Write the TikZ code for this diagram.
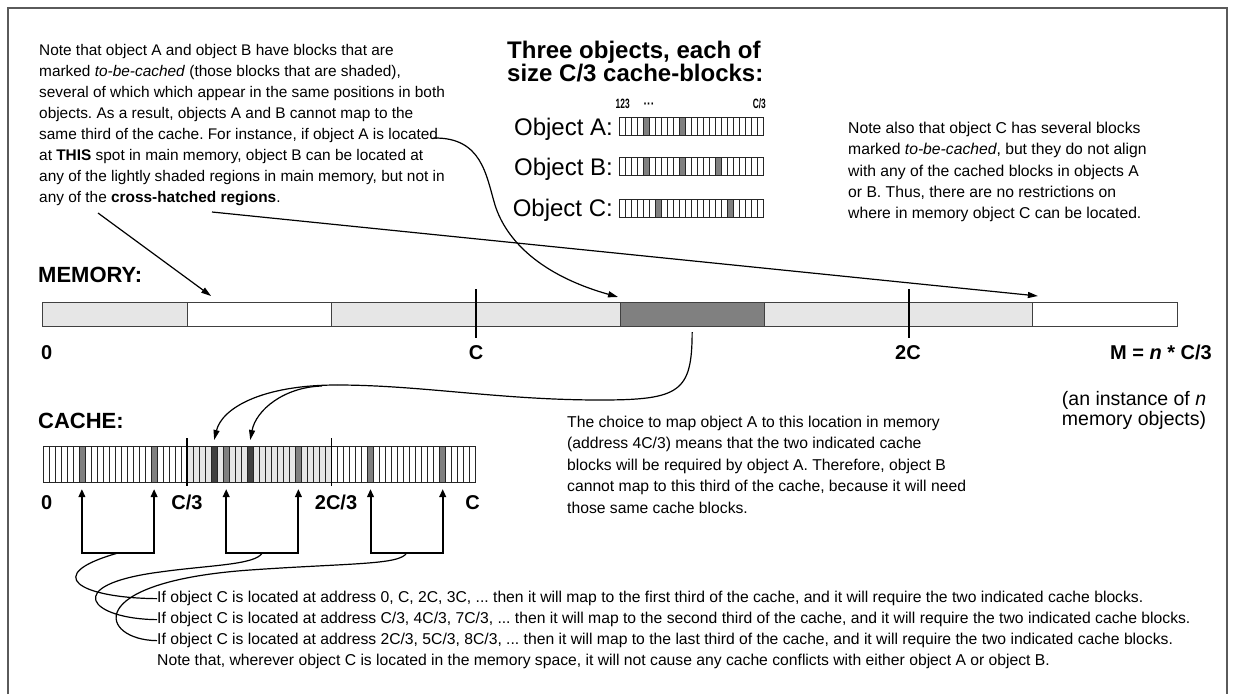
\documentclass[tikz,border=0pt]{standalone}
\usepackage{fontspec}
\setmainfont{Liberation Sans}
\usetikzlibrary{arrows.meta,calc}
\definecolor{memlight}{HTML}{E6E6E6}
\definecolor{memdark}{HTML}{808080}
\definecolor{cellmid}{HTML}{808080}
\definecolor{celldeep}{HTML}{404040}
\definecolor{framegray}{HTML}{5A5A5A}
\frenchspacing
\newcommand{\drawobjbar}[2]{%
  \fill[white] (619.3,#1) rectangle (763.6,{#1+18});
  \foreach \c in {#2} \fill[cellmid] ({619.3+\c*6.0125},#1) rectangle ++(6.0125,18);
  \foreach \c in {0,...,24} \draw[cellline] ({619.3+\c*6.0125},#1) -- ++(0,18);
  \draw[cellline] (619.3,#1) rectangle (763.6,{#1+18});
}
\begin{document}
\frenchspacing
\begin{tikzpicture}[x=1pt,y=-1pt,
  notetext/.style={font=\fontsize{15.4}{18}\selectfont,inner sep=0pt,anchor=base west},
  bodytext/.style={font=\fontsize{15.7}{18}\selectfont,inner sep=0pt,anchor=base west},
  biglabel/.style={font=\bfseries\fontsize{22}{26}\selectfont,inner sep=0pt,anchor=base west},
  headtext/.style={font=\bfseries\fontsize{24}{27}\selectfont,inner sep=0pt,anchor=base west},
  addr/.style={font=\bfseries\fontsize{20}{24}\selectfont,inner sep=0pt,anchor=base},
  objlabel/.style={font=\fontsize{24}{27}\selectfont,inner sep=0pt,anchor=base east},
  tinylabel/.style={font=\bfseries\fontsize{13.5}{15}\selectfont,inner sep=0pt},
  instlabel/.style={font=\fontsize{19.5}{22}\selectfont,inner sep=0pt,anchor=base},
  memseg/.style={draw=black!75,line width=1pt,inner sep=0pt,outer sep=0pt,minimum height=24pt},
  conn/.style={draw=black,line width=1.2pt},
  tipped/.style={-{Triangle[length=10pt,width=6pt]}},
  bracket/.style={line width=2pt,{Triangle[length=8pt,width=6.5pt]}-{Triangle[length=8pt,width=6.5pt]}},
  tickline/.style={line width=1.8pt},
  cellline/.style={line width=0.6pt,draw=black!85},
]
\useasboundingbox (0,0) rectangle (1233,694);
\draw[framegray,line width=1.2pt] (8,694) -- (8,8) -- (1227,8) -- (1227,694);

% ---------- left note ----------
\foreach \t [count=\i] in {
  {Note that object A and object B have blocks that are},
  {marked \textit{to-be-cached} (those blocks that are shaded),},
  {several of which which appear in the same positions in both},
  {objects. As a result, objects A and B cannot map to the},
  {same third of the cache. For instance, if object A is located},
  {at \textbf{THIS} spot in main memory, object B can be located at},
  {any of the lightly shaded regions in main memory, but not in},
  {any of the \textbf{cross-hatched regions}.}}
  \node[notetext] (ln\i) at (39,{55.5+21*(\i-1)}) {\t};

% ---------- heading ----------
\node[headtext] (h1) at (507,58.6) {Three objects, each of};
\node[headtext] (h2) at (507,81.6) {size C/3 cache-blocks:};
\node[tinylabel,anchor=base west] (n123) at (615.5,108) {\scalebox{0.62}[1]{123}};
\node[tinylabel,anchor=base] (ndots) at (649,108) {\scalebox{0.8}[1]{···}};
\node[tinylabel,anchor=base east] (nc3) at (766,108) {\scalebox{0.62}[1]{C/3}};

% ---------- objects ----------
\drawobjbar{117.5}{4,10}
\drawobjbar{157.5}{4,10,16}
\drawobjbar{199}{6,18}
\node[objlabel] (oa) at (613,135.5) {Object A:};
\node[objlabel] (ob) at (613,175.5) {Object B:};
\node[objlabel] (oc) at (613,216.5) {Object C:};

% ---------- right note ----------
\foreach \t [count=\i] in {
  {Note also that object C has several blocks},
  {marked \textit{to-be-cached}, but they do not align},
  {with any of the cached blocks in objects A},
  {or B. Thus, there are no restrictions on},
  {where in memory object C can be located.}}
  \node[bodytext] (rn\i) at (848,{133.7+21.2*(\i-1)}) {\t};

% ---------- memory ----------
\node[biglabel] (memlbl) at (38,282) {MEMORY:};
\node[memseg,fill=memlight,minimum width=144.3pt] (m0) at (114.95,314) {};
\node[memseg,fill=white,minimum width=144.3pt] (m1) at (259.25,314) {};
\node[memseg,fill=memlight,minimum width=288.6pt] (m2) at (475.7,314) {};
\node[memseg,fill=memdark,minimum width=144.3pt] (m3) at (692.15,314) {};
\node[memseg,fill=memlight,minimum width=288.6pt] (m4) at (908.6,314) {};
\node[memseg,fill=white,minimum width=144.3pt] (m5) at (1105.05,314) {};
\draw[tickline] (475.7,289) -- (475.7,338);
\draw[tickline] (908.6,289) -- (908.6,338);
\node[addr,anchor=base west] (a0) at (41,359) {0};
\node[addr] (aC) at (476,359) {C};
\node[addr] (a2C) at (908,359) {2C};
\node[addr,anchor=base east] (aM) at (1212,359) {M = \textit{n} * C/3};
\node[instlabel] (inst1) at (1134,405) {(an instance of \textit{n}};
\node[instlabel] (inst2) at (1134,425) {memory objects)};

% ---------- cache ----------
\node[biglabel] (cachelbl) at (38,428) {CACHE:};
\fill[white] (42.8,446) rectangle (475.7,482);
\fill[memlight] ({42.8+24*6.0125},446) rectangle ({42.8+48*6.0125},482);
\foreach \c in {6,18,30,42,54,66} \fill[cellmid] ({42.8+\c*6.0125},446) rectangle ++(6.0125,36);
\foreach \c in {28,34} \fill[celldeep] ({42.8+\c*6.0125},446) rectangle ++(6.0125,36);
\foreach \c in {0,...,72} \draw[cellline] ({42.8+\c*6.0125},446) -- ++(0,36);
\draw[cellline] (42.8,446) rectangle (475.7,482);
\draw[tickline] (187.1,438) -- (187.1,486);
\draw[tickline] (331.4,438) -- (331.4,486);
\node[addr,anchor=base west] (c0) at (41,509) {0};
\node[addr] (c13) at (187,509) {C/3};
\node[addr] (c23) at (336,509) {2C/3};
\node[addr,anchor=base east] (c1) at (480,509) {C};

% ---------- brackets under the cache ----------
\coordinate (k6) at (81.9,489);   \coordinate (k18) at (154.1,489);
\coordinate (k30) at (226.2,489); \coordinate (k42) at (298.4,489);
\coordinate (k54) at (370.5,489); \coordinate (k66) at (442.7,489);
\draw[bracket] (k6) -- (81.9,553) -- (154.1,553) -- (k18);
\draw[bracket] (k30) -- (226.2,553) -- (298.4,553) -- (k42);
\draw[bracket] (k54) -- (370.5,553) -- (442.7,553) -- (k66);
\coordinate (bx1) at (118,553);
\coordinate (bx2) at (262.3,553);
\coordinate (bx3) at (406.6,553);

% ---------- choice text ----------
\foreach \t [count=\i] in {
  {The choice to map object A to this location in memory},
  {(address 4C/3) means that the two indicated cache},
  {blocks will be required by object A. Therefore, object B},
  {cannot map to this third of the cache, because it will need},
  {those same cache blocks.}}
  \node[bodytext] (ch\i) at (567,{427.3+21.5*(\i-1)}) {\t};

% ---------- bottom text ----------
\node[bodytext] (bt1) at (157,602.7) {If object C is located at address 0, C, 2C, 3C, ... then it will map to the first third of the cache, and it will require the two indicated cache blocks.};
\node[bodytext] (bt2) at (157,623.7) {If object C is located at address C/3, 4C/3, 7C/3, ... then it will map to the second third of the cache, and it will require the two indicated cache blocks.};
\node[bodytext] (bt3) at (157,644.7) {If object C is located at address 2C/3, 5C/3, 8C/3, ... then it will map to the last third of the cache, and it will require the two indicated cache blocks.};
\node[bodytext] (bt4) at (157,665.7) {Note that, wherever object C is located in the memory space, it will not cause any cache conflicts with either object A or object B.};

% ---------- connectors ----------
\coordinate (pa0) at ($(ln5.east)+(-5,2.5)$);
\coordinate (pa1) at ($(m3.north west)+(-2,-5)$);
\draw[conn,tipped] (pa0) .. controls (482,137) and (486,175) .. (495,205)
   .. controls (506,240) and (540,275) .. (pa1);
\coordinate (pb0) at (98,213);
\coordinate (pb1) at ($(m1.north west)+(24,-6)$);
\draw[conn,tipped] (pb0) -- (pb1);
\coordinate (pc0) at (212,212);
\coordinate (pc1) at ($(m5.north west)+(5,-6)$);
\draw[conn,tipped] (pc0) -- (pc1);

\coordinate (d0) at ($(m3.south)+(0,6)$);
\coordinate (d1) at (337,385);
\coordinate (d2) at (322,386);
\coordinate (ca28) at ({42.8+28.5*6.0125},440);
\coordinate (ca34) at ({42.8+34.5*6.0125},440);
\draw[conn] (d0) .. controls (692,392) and (680,400) .. (600,400)
   .. controls (500,400) and (420,385) .. (d1);
\draw[conn,tipped] (d1) .. controls (262,385) and (222,408) .. (ca28);
\draw[conn,tipped] (d2) .. controls (284,387) and (256,410) .. (ca34);

\draw[conn] (bx1) .. controls (40,575) and (80,598) .. (bt1.west);
\draw[conn] (bx2) .. controls (255,565) and (210,565) .. (160,572)
   .. controls (60,585) and (90,619) .. (bt2.west);
\draw[conn] (bx3) .. controls (400,565) and (350,563) .. (250,570)
   .. controls (80,582) and (100,640) .. (bt3.west);
\end{tikzpicture}
\end{document}
